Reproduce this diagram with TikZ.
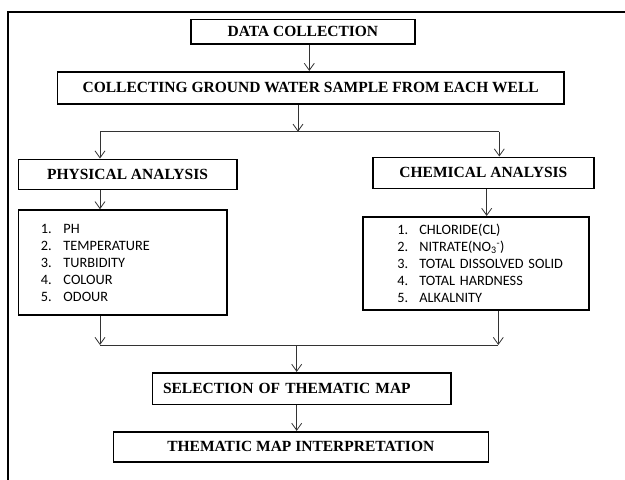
\documentclass[tikz,border=0pt]{standalone}
\usepackage{fontspec}
\setmainfont{Liberation Serif}
\newfontfamily\listfont{Carlito}
\usetikzlibrary{arrows.meta}
\newcommand{\titlefnt}{\fontsize{15.5}{18}\selectfont\bfseries}
\newcommand{\listfnt}{\listfont\fontsize{14.3}{17}\selectfont}
\newcommand{\itm}[1]{\makebox[22.5pt][l]{#1}}
\newcommand{\citm}[1]{\hspace*{24.6pt}\makebox[22pt][l]{#1}}
\begin{document}
\begin{tikzpicture}[x=1pt,y=-1pt,
  box/.style={draw, line width=1.6pt, inner sep=0pt, font=\titlefnt},
  listbox/.style={draw, line width=1.6pt, inner ysep=0pt, align=left, font=\listfnt},
  conn/.style={draw=black!80, line width=0.8pt},
  arr/.style={conn, -{Straight Barb[length=7pt,width=10pt]}}]
\useasboundingbox (0,0) rectangle (625,480);
\draw[line width=1.2pt] (8,480) -- (8,12) -- (625,12);

\node[box, minimum width=224.3, minimum height=24.7] (dc) at (302.9,31.7) {DATA COLLECTION};
\node[box, minimum width=506.7, minimum height=32.3] (coll) at (310.7,87.9) {COLLECTING GROUND WATER SAMPLE FROM EACH WELL};
\node[box, minimum width=218.4, minimum height=30] (phys) at (127.5,174.3) {PHYSICAL ANALYSIS};
\node[box, minimum width=221.3, minimum height=31] (chem) at (483.4,172.8) {CHEMICAL ANALYSIS};
\node[listbox, inner xsep=22.7pt, text width=163pt, minimum height=105] (plist) at (122.5,262.5)
  {\itm{1.}PH\\ \itm{2.}TEMPERATURE\\ \itm{3.}TURBIDITY\\ \itm{4.}COLOUR\\ \itm{5.}ODOUR};
\node[listbox, inner xsep=10pt, text width=206.3pt, minimum height=93.3] (clist) at (475.9,263.4)
  {\citm{1.}CHLORIDE(CL)\\ \citm{2.}NITRATE(NO\textsubscript{3}\textsuperscript{-})\\ \citm{3.}TOTAL DISSOLVED SOLID\\ \citm{4.}TOTAL HARDNESS\\ \citm{5.}ALKALNITY};
\node[box, inner xsep=10.7pt, text width=277pt, align=left, minimum height=31.6] (sel) at (301.5,388.5) {SELECTION OF THEMATIC MAP};
\node[box, minimum width=375, minimum height=30] (interp) at (300.8,446.7) {THEMATIC MAP INTERPRETATION};

\coordinate (br) at (298,131.7);
\coordinate (bl) at (100,131.7);
\coordinate (brr) at (499.3,131.7);
\coordinate (ml) at (100,345);
\coordinate (mr) at (498.3,345);
\coordinate (mm) at (296.7,345);

\draw[arr] (309.3,0 |- dc.south) -- (309.3,0 |- coll.north);
\draw[arr] (br |- coll.south) -- (br);
\draw[conn] (bl) -- (brr);
\draw[arr] (bl) -- (bl |- phys.north);
\draw[arr] (brr) -- (brr |- chem.north);
\draw[arr] (100,0 |- phys.south) -- (100,0 |- plist.north);
\draw[arr] (486.7,0 |- chem.south) -- (486.7,0 |- clist.north);
\draw[arr] (ml |- plist.south) -- (ml);
\draw[arr] (mr |- clist.south) -- (mr);
\draw[conn] (ml) -- (mr);
\draw[arr] (mm) -- (mm |- sel.north);
\draw[arr] (mm |- sel.south) -- (mm |- interp.north);
\end{tikzpicture}
\end{document}
